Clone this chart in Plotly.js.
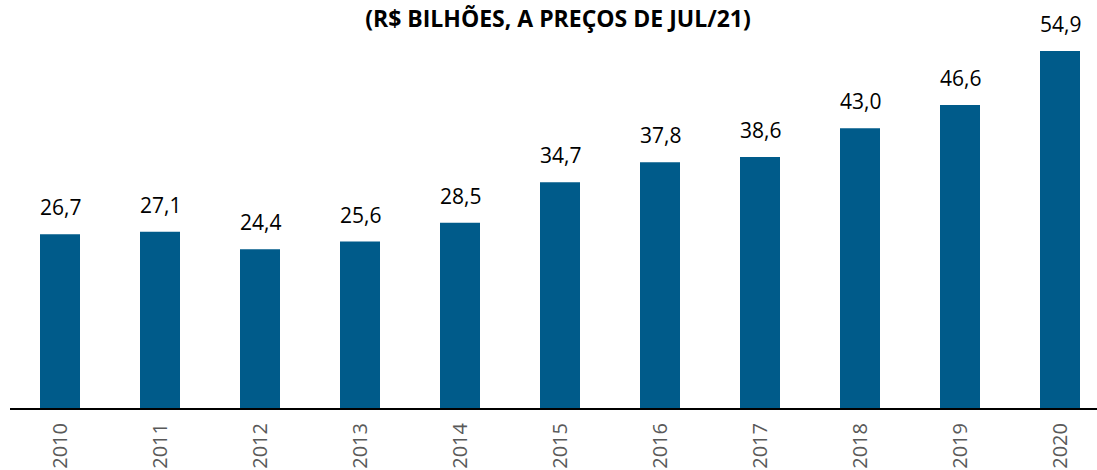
<!DOCTYPE html>
<html>
<head>
<meta charset="utf-8">
<script src="https://cdn.plot.ly/plotly-3.0.1.min.js"></script>
<style>html,body{margin:0;padding:0;background:#fff;}#chart{width:1097px;height:470px;}</style>
</head>
<body>
<div id="chart"></div>
<script>
const years = ["2010","2011","2012","2013","2014","2015","2016","2017","2018","2019","2020"];
const values = [26.7, 27.1, 24.4, 25.6, 28.5, 34.7, 37.8, 38.6, 43.0, 46.6, 54.9];
const titleText = "(R$ BILHÕES, A PREÇOS DE JUL/21)";

const trace = {
  type: "bar",
  x: years,
  y: values,
  marker: {color: "#005B8A"},
  cliponaxis: false,
  hoverinfo: "none"
};

const labelAnnotations = years.map((yr, i) => ({
  x: i,
  y: values[i],
  xref: "x",
  yref: "y",
  text: values[i].toFixed(1).replace(".", ","),
  showarrow: false,
  xanchor: "center",
  yanchor: "bottom",
  yshift: 11,
  font: {family: "Open Sans, sans-serif", size: 21, color: "#000000"}
}));

const layout = {
  width: 1097,
  height: 470,
  margin: {l: 10, r: 0, t: 0, b: 62},
  paper_bgcolor: "#ffffff",
  plot_bgcolor: "#ffffff",
  separators: ",.",
  bargap: 0.6,
  showlegend: false,
  title: {
    text: "<b>" + titleText + "</b>",
    font: {family: "Open Sans, sans-serif", size: 23, color: "#000000"},
    x: 553/1097, xref: "paper", xanchor: "center",
    y: 1 - 19/470, yref: "container", yanchor: "middle"
  },
  annotations: labelAnnotations,
  xaxis: {
    type: "category",
    range: [-0.5, 10.37],
    tickangle: -90,
    tickfont: {family: "Open Sans, sans-serif", size: 20, color: "#595959"},
    ticklabelstandoff: 5,
    showline: true,
    linecolor: "#000000",
    linewidth: 2,
    ticks: "",
    showgrid: false,
    zeroline: false,
    fixedrange: true
  },
  yaxis: {
    range: [0, 62.74],
    visible: false,
    showgrid: false,
    zeroline: false,
    fixedrange: true
  }
};

Plotly.newPlot("chart", [trace], layout, {displayModeBar: false, staticPlot: true});
</script>
</body>
</html>
